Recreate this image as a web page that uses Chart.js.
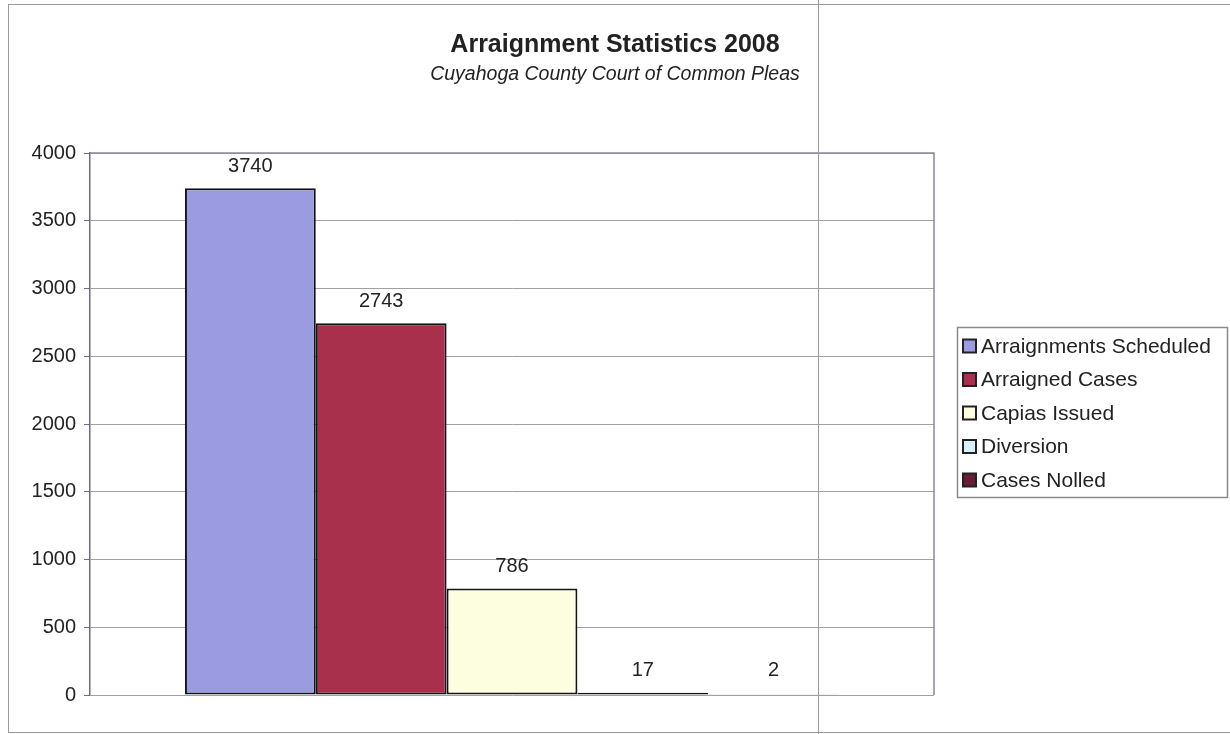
<!DOCTYPE html>
<html>
<head>
<meta charset="utf-8">
<script src="https://cdn.jsdelivr.net/npm/chart.js@4"></script>
<style>
html,body{margin:0;padding:0;background:#fff;}
#wrap{position:relative;width:1230px;height:734px;}
</style>
</head>
<body>
<div id="wrap"><canvas id="c" width="1230" height="734"></canvas></div>
<script>
const categories = [''];
const seriesNames = ['Arraignments Scheduled', 'Arraigned Cases', 'Capias Issued', 'Diversion', 'Cases Nolled'];
const seriesValues = [3740, 2743, 786, 17, 2];
const seriesColors = ['#9a9be0', '#a8304c', '#fdfde0', '#d4f4fa', '#6a1b36'];
const yTicks = [0, 500, 1000, 1500, 2000, 2500, 3000, 3500, 4000];
const titleText = 'Arraignment Statistics 2008';
const subtitleText = 'Cuyahoga County Court of Common Pleas';

const FONT = '"Liberation Sans", Arial, sans-serif';

const datasets = seriesNames.map((name, i) => ({
  label: name,
  data: [seriesValues[i]],
  backgroundColor: seriesColors[i],
  borderColor: '#141414',
  borderWidth: 2,
  borderSkipped: false,
  categoryPercentage: 0.775,
  barPercentage: 1.0
}));

const decor = {
  id: 'decor',
  beforeDraw(chart) {
    const ctx = chart.ctx;
    ctx.save();
    ctx.fillStyle = '#fff';
    ctx.fillRect(0, 0, chart.width, chart.height);
    ctx.strokeStyle = '#9a9a9a';
    ctx.lineWidth = 1;
    ctx.strokeRect(8.5, 4.5, 1240, 728);
    ctx.restore();
  },
  afterDatasetsDraw(chart) {
    const ctx = chart.ctx;
    const a = chart.chartArea;
    ctx.save();
    ctx.strokeStyle = '#8a8a9a';
    ctx.lineWidth = 1.5;
    ctx.beginPath();
    ctx.moveTo(a.left, a.top); ctx.lineTo(a.right, a.top); ctx.lineTo(a.right, a.bottom);
    ctx.stroke();
    // data labels
    ctx.fillStyle = '#222';
    ctx.font = '20px ' + FONT;
    ctx.textAlign = 'center';
    ctx.textBaseline = 'middle';
    chart.data.datasets.forEach((ds, i) => {
      const meta = chart.getDatasetMeta(i);
      meta.data.forEach((bar, j) => {
        ctx.fillText(String(ds.data[j]), bar.x, Math.min(bar.y, a.bottom - 3) - 22);
      });
    });
    // titles
    const cx = 615;
    ctx.fillStyle = '#222';
    ctx.font = 'bold 25px ' + FONT;
    ctx.fillText(titleText, cx, 45);
    ctx.font = 'italic 19.5px ' + FONT;
    ctx.fillText(subtitleText, cx, 75);
    // legend
    const lx = 957, ly = 327, lw = 270, lh = 170;
    ctx.strokeStyle = '#8a8a8a';
    ctx.lineWidth = 1.5;
    ctx.strokeRect(lx + 0.5, ly + 0.5, lw, lh);
    ctx.font = '21px ' + FONT;
    ctx.textAlign = 'left';
    chart.data.datasets.forEach((ds, i) => {
      const y = 346 + i * 33.5;
      ctx.fillStyle = ds.backgroundColor;
      ctx.fillRect(963, y - 6.5, 13, 13);
      ctx.strokeStyle = '#222';
      ctx.lineWidth = 2;
      ctx.strokeRect(963, y - 6.5, 13, 13);
      ctx.fillStyle = '#222';
      ctx.fillText(ds.label, 981, y + 1);
    });
    // scan line artifact
    ctx.strokeStyle = '#9a9aa6';
    ctx.lineWidth = 1;
    ctx.beginPath();
    ctx.moveTo(818.5, 0); ctx.lineTo(818.5, 734);
    ctx.stroke();
    ctx.restore();
  }
};

new Chart(document.getElementById('c'), {
  type: 'bar',
  data: { labels: categories, datasets },
  options: {
    responsive: false,
    animation: false,
    devicePixelRatio: 1,
    layout: { padding: { left: 0, right: 296, top: 153, bottom: 39 } },
    plugins: { legend: { display: false }, title: { display: false }, tooltip: { enabled: false } },
    scales: {
      x: { display: false, offset: true },
      y: {
        min: 0, max: 4000,
        afterFit(scale) { scale.width = 90; },
        afterBuildTicks(scale) { scale.ticks = yTicks.map(v => ({ value: v })); },
        ticks: { color: '#222', font: { family: FONT, size: 20 }, padding: 8, callback: v => String(v) },
        grid: { color: '#a0a0a0', lineWidth: 1, tickLength: 6, tickColor: '#6a6a80' },
        border: { color: '#6a6a80', width: 1.5 }
      }
    }
  },
  plugins: [decor]
});
</script>
</body>
</html>
